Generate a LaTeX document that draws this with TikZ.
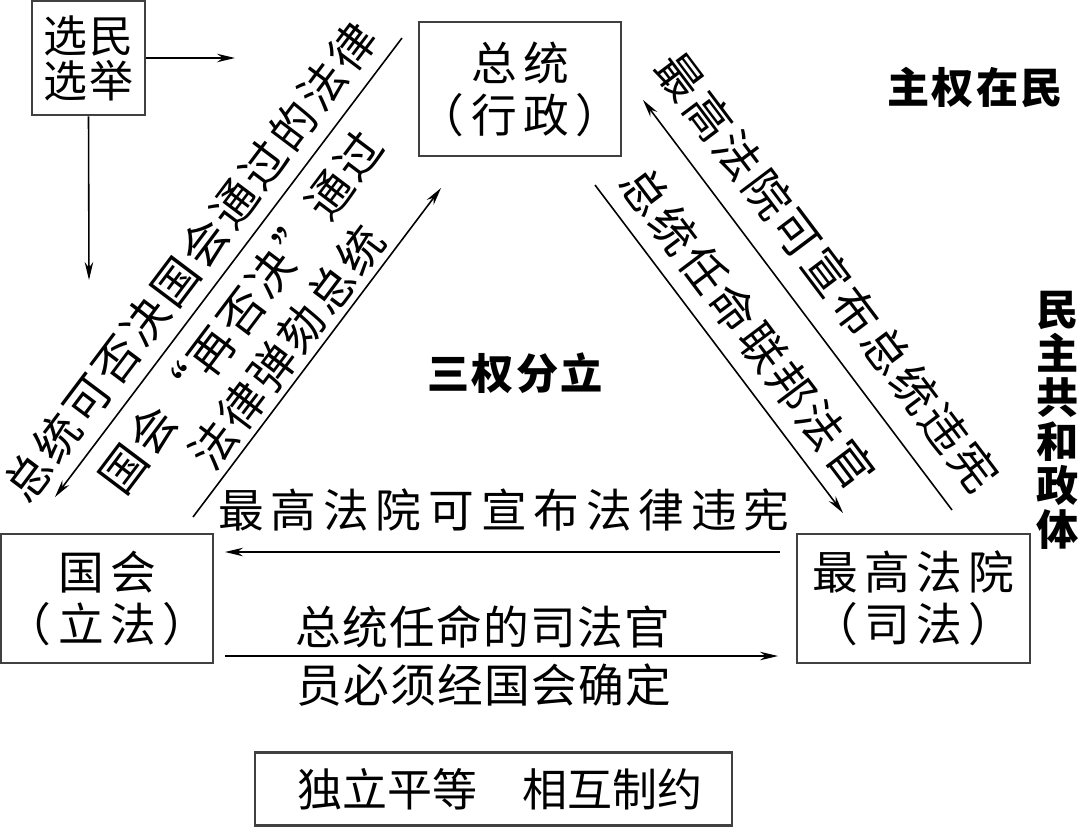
\documentclass[tikz,border=0pt]{standalone}
\usepackage{fontspec}
\setmainfont{Noto Sans CJK SC}
\usetikzlibrary{arrows.meta}

\begin{document}
\begin{tikzpicture}[x=0.01cm,y=-0.01cm,
    >={Stealth[length=0.18cm,width=0.085cm]},
    every path/.style={line width=0.45pt},
    box/.style={draw=black!75,line width=0.7pt,inner sep=0pt,align=center,
      font=\fontsize{13pt}{14.8pt}\selectfont\addfontfeatures{LetterSpace=14}},
    lbl/.style={inner sep=0pt,font=\fontsize{13pt}{15pt}\selectfont\addfontfeatures{LetterSpace=15}},
    tight/.style={inner sep=0pt,font=\fontsize{13pt}{15pt}\selectfont\addfontfeatures{LetterSpace=3}},
    diag/.style={inner sep=0pt,font=\fontsize{13pt}{15pt}\selectfont\addfontfeatures{LetterSpace=7}},
    hei/.style={inner sep=0pt,align=center,
      font=\fontsize{12pt}{12.5pt}\selectfont\bfseries\addfontfeatures{LetterSpace=5}}]
    \useasboundingbox (0,0) rectangle (1080,827);
    % boxes
    \node[box,minimum width=1.13cm,minimum height=1.14cm,
      font=\fontsize{12.5pt}{12.8pt}\selectfont\addfontfeatures{LetterSpace=6}] (voter) at (88.5,58) {选民\\选举};
    \node[box,minimum width=2cm,minimum height=1.34cm] (pres) at (520,89) {总统\\（行政）};
    \node[box,minimum width=2.12cm,minimum height=1.29cm] (cong) at (107,598.5) {国会\\（立法）};
    \node[box,minimum width=2.33cm,minimum height=1.29cm] (court) at (913.5,598.5) {最高法院\\（司法）};
    \node[box,minimum width=4.77cm,minimum height=0.73cm,
      font=\fontsize{12.8pt}{14pt}\selectfont] (motto) at (493.5,789) {\hspace{0.13cm}独立平等　相互制约};
    % headings
    \node[hei] (sov) at (975,87) {主权在民};
    \node[hei] (rep) at (1058,420) {民\\主\\共\\和\\政\\体};
    \node[hei] (sep) at (515,373) {三权分立};
    % voters
    \coordinate (v1) at (235,58);
    \coordinate (v2) at (89,280);
    \draw[->] (voter.east) -- (v1);
    \draw[->] (voter.south) -- (v2);
    % left side
    \coordinate (l1) at (402,38);
    \coordinate (l2) at (55,497);
    \coordinate (l3) at (193,517);
    \coordinate (l4) at (441,188);
    \draw[->] (l1) -- (l2);
    \draw[->] (l3) -- (l4);
    \node[diag,rotate=53] (veto) at (190,262) {总统可否决国会通过的法律};
    \node[diag,rotate=53] (over) at (241,312) {国会“再否决”通过};
    \node[diag,rotate=53] (imp) at (287,347) {法律弹劾总统};
    % right side
    \coordinate (r1) at (952,510);
    \coordinate (r2) at (643,100);
    \coordinate (r3) at (595,185);
    \coordinate (r4) at (843,513);
    \draw[->] (r1) -- (r2);
    \draw[->] (r3) -- (r4);
    \node[diag,rotate=-53] (unc) at (827,272) {最高法院可宣布总统违宪};
    \node[diag,rotate=-53] (app) at (748,328) {总统任命联邦法官};
    % bottom
    \coordinate (b1) at (780,552);
    \coordinate (b2) at (225,552);
    \coordinate (b3) at (225,656);
    \coordinate (b4) at (778,656);
    \draw[->] (b1) -- (b2);
    \draw[->] (b3) -- (b4);
    \node[lbl] (law) at (504,510) {最高法院可宣布法律违宪};
    \node[tight] (judA) at (483,627) {总统任命的司法官};
    \node[tight] (judB) at (484,685) {员必须经国会确定};
\end{tikzpicture}
\end{document}
